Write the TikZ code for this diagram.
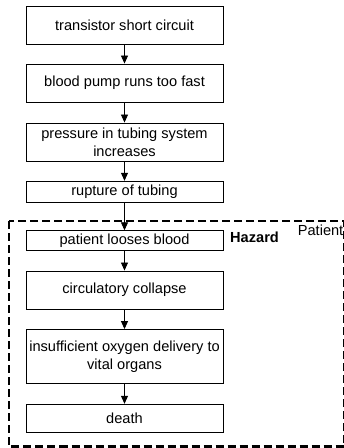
\documentclass[tikz,border=0pt]{standalone}
\usepackage{fontspec}
\setmainfont{Liberation Sans}
\usetikzlibrary{arrows.meta}
\begin{document}
\begin{tikzpicture}[x=1pt,y=-1pt,
  stepbox/.style={draw=black, line width=0.9pt, minimum width=197pt,
    inner sep=1pt, align=center, font=\fontsize{14.6}{17.7}\selectfont},
  flow/.style={-{Triangle[width=7pt,length=8pt]}, line width=0.8pt},
  zone/.style={draw=black, line width=2.6pt, dash pattern=on 8pt off 4pt}]
\useasboundingbox (0,0) rectangle (344,448);
\begin{scope}
\clip (0,0) rectangle (344,448);
\draw[zone] (9,221) rectangle (344,446.5);
\end{scope}
\node[stepbox, minimum height=38pt]   (s1) at (124.5,25)    {transistor short circuit};
\node[stepbox, minimum height=38pt]   (s2) at (124.5,83)    {blood pump runs too fast};
\node[stepbox, minimum height=38pt]   (s3) at (124.5,142)   {pressure in tubing system\\increases};
\node[stepbox, minimum height=21.5pt] (s4) at (124.5,192)   {rupture of tubing};
\node[stepbox, minimum height=19.5pt] (s5) at (124.5,240.5) {patient looses blood};
\node[stepbox, minimum height=38pt]   (s6) at (124.5,290)   {circulatory collapse};
\node[stepbox, minimum height=54pt]   (s7) at (124.5,356.5) {insufficient oxygen delivery to\\vital organs};
\node[stepbox, minimum height=28.5pt] (s8) at (124.5,418.5) {death};
\node[anchor=west, inner sep=0pt, font=\fontsize{14.6}{17.7}\selectfont\bfseries] (hz) at (230,237) {Hazard};
\node[anchor=east, inner sep=0pt, font=\fontsize{14.6}{17.7}\selectfont] (pt) at (343.5,230) {Patient};
\foreach \a/\b in {s1/s2,s2/s3,s3/s4,s4/s5,s5/s6,s6/s7,s7/s8}
  \draw[flow] (\a.south) -- (\b.north);
\end{tikzpicture}
\end{document}
